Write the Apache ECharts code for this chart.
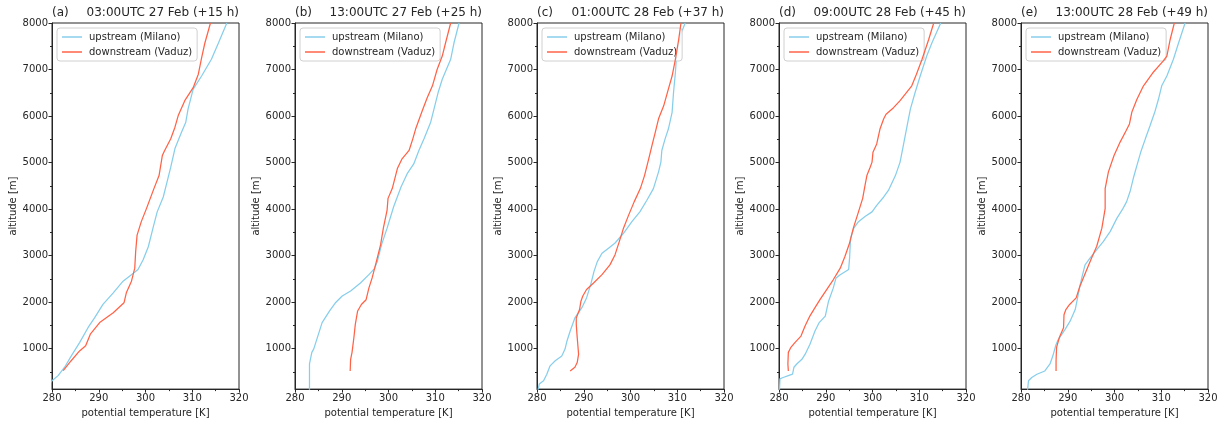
<!DOCTYPE html>
<html>
<head>
<meta charset="UTF-8">
<title>potential temperature profiles</title>
<script src="https://cdn.jsdelivr.net/npm/echarts@6/dist/echarts.min.js"></script>
<style>
  html, body { margin: 0; padding: 0; background: #fff; }
  #main { width: 1223px; height: 423px; }
</style>
</head>
<body>
<div id="main"></div>
<script>
// panel titles
var tags = ['(a)', '(b)', '(c)', '(d)', '(e)'];
var times = ['03:00UTC 27 Feb (+15 h)', '13:00UTC 27 Feb (+25 h)', '01:00UTC 28 Feb (+37 h)',
             '09:00UTC 28 Feb (+45 h)', '13:00UTC 28 Feb (+49 h)'];

// [theta K, altitude m]
var upA = [[279.5,250],[280,310],[281.3,420],[282.7,600],[284.1,840],[285.9,1130],[287.7,1450],[289.1,1660],
  [290.9,1950],[293.1,2200],[295.2,2450],[297.4,2620],[298.4,2700],[299.5,2910],[300.6,3190],[301.6,3590],
  [302.5,3940],[303.8,4260],[304.6,4580],[305.4,4900],[306.3,5300],[307.7,5650],[308.6,5860],[309.1,6150],
  [310.2,6580],[312,6860],[314.1,7220],[315.6,7570],[317.4,8000]];
var downA = [[282.4,525],[284.1,740],[285.9,950],[287.2,1060],[288.2,1310],[290.2,1560],[293.1,1770],
  [295.4,1985],[295.9,2200],[297,2450],[297.7,2730],[297.9,3090],[298.2,3440],[299.1,3730],[300.2,4010],
  [301.8,4440],[302.9,4720],[303.6,5150],[304.1,5260],[305.4,5510],[306.3,5760],[307,6010],[308.4,6330],
  [310.2,6610],[311.3,6900],[312,7250],[312.7,7570],[313.9,8000]];

var upB = [[283.1,100],[283.1,670],[283.6,920],[284,990],[285.8,1560],[287.4,1810],[288.6,1980],[290.1,2130],
  [291.9,2240],[294,2410],[295.8,2590],[297,2720],[297.6,2870],[298.5,3230],[299.7,3590],[301.1,4050],
  [302.7,4480],[304,4760],[305.4,4970],[306.5,5260],[307.6,5510],[309,5860],[309.9,6220],[310.6,6500],
  [311.5,6790],[313.3,7220],[314,7570],[315.1,8000]];
var downB = [[291.8,520],[291.9,770],[292.2,920],[292.6,1240],[292.9,1520],[293.4,1810],[294.2,1950],
  [295.2,2050],[295.8,2300],[296.5,2520],[297.4,2870],[298.3,3230],[298.9,3590],[299.7,3980],[299.9,4230],
  [300.8,4440],[301.9,4870],[302.9,5080],[304.4,5260],[305.2,5510],[305.8,5720],[307.2,6110],[308.3,6400],
  [309.4,6650],[310.4,7000],[311.5,7290],[312.2,7570],[313.3,8000]];

var upC = [[280.2,100],[280.3,130],[280.5,240],[281.4,310],[282.1,450],[282.8,630],[283.9,740],[285.3,840],
  [286,990],[286.4,1160],[287.1,1380],[288.1,1660],[289.6,1880],[290.6,2090],[291.5,2380],[292.2,2660],
  [292.9,2870],[293.9,3050],[295.3,3160],[296.7,3270],[298.5,3480],[300.3,3730],[302,3940],[303.5,4190],
  [304.9,4440],[306,4800],[306.5,5010],[306.7,5260],[307.4,5510],[308.1,5720],[308.9,6080],[309.2,6500],
  [309.6,6930],[309.9,7360],[310.6,7720],[311.7,8000]];
var downC = [[287.1,520],[288.1,600],[288.6,700],[288.9,880],[288.6,1240],[288.4,1520],[288.4,1660],
  [289.1,1840],[289.4,2020],[289.8,2130],[290.6,2270],[292.1,2410],[293.9,2590],[295.6,2800],[296.7,3020],
  [297.6,3300],[298.5,3590],[299.6,3870],[300.8,4160],[302.1,4440],[303,4720],[303.9,5080],[304.6,5370],
  [305.3,5650],[306,5940],[307.1,6220],[308.1,6580],[308.9,6860],[309.6,7220],[310.3,7640],[310.8,8000]];

var upD = [[280.1,100],[280.1,130],[280.2,350],[280.9,380],[282,420],[282.9,450],[283.2,600],[283.8,670],
  [284.9,770],[285.6,880],[286.6,1090],[287.7,1380],[288.6,1560],[289.9,1700],[290.6,2020],[291.6,2300],
  [292.2,2520],[293.1,2590],[294.9,2700],[295.1,2950],[295.3,3370],[296,3590],[297,3730],[298.4,3840],
  [299.9,3940],[300.9,4080],[302.4,4260],[303.4,4400],[304.9,4720],[305.9,5010],[306.6,5370],[307.4,5790],
  [308.1,6150],[309.1,6500],[310.2,6860],[311.6,7290],[312.7,7570],[314.6,8000]];
var downD = [[282,520],[281.9,670],[282,920],[282.5,1020],[283.4,1130],[284.7,1270],[285.6,1490],
  [286.6,1700],[287.7,1880],[288.8,2060],[290.2,2270],[291.6,2480],[293.1,2730],[294.1,2980],[295.1,3270],
  [295.9,3590],[297,3940],[297.9,4230],[298.4,4510],[298.8,4720],[299.5,4900],[299.9,5010],[300.1,5220],
  [300.9,5400],[301.6,5720],[302.4,5940],[302.9,6040],[304.5,6180],[305.9,6330],[307,6470],[308.4,6650],
  [309.4,6900],[310.6,7220],[312,7640],[313.1,8000]];

var upE = [[281.4,100],[281.6,310],[282.3,380],[283.4,450],[285.1,520],[286.2,670],[286.8,840],[287.5,1090],
  [288,1200],[289.4,1410],[290.5,1590],[291.6,1840],[292.1,2090],[292.5,2300],[293,2520],[293.7,2800],
  [294.8,2950],[296.2,3130],[297.6,3300],[299.1,3520],[300.5,3800],[301.8,4010],[302.6,4160],[303.4,4400],
  [304.1,4690],[304.8,4940],[305.6,5220],[306.6,5510],[307.6,5790],[308.6,6080],[309.4,6360],[310.1,6650],
  [311.2,6860],[312.6,7220],[313.7,7570],[315.1,8000]];
var downE = [[287.5,520],[287.5,740],[287.6,1020],[288.2,1240],[289.1,1450],[289.2,1730],[289.6,1840],
  [290.4,1950],[291.8,2090],[292.6,2340],[293.9,2660],[295.1,2950],[296.2,3200],[297.3,3590],[298,4010],
  [298,4440],[298.7,4800],[299.9,5150],[301.2,5440],[302.5,5690],[303.2,5830],[303.7,6080],[304.8,6360],
  [306.2,6650],[308.2,6930],[310.4,7180],[311.2,7290],[311.9,7640],[312.8,8000]];

var upstream = [upA, upB, upC, upD, upE];
var downstream = [downA, downB, downC, downD, downE];

var yTicks = [1000, 2000, 3000, 4000, 5000, 6000, 7000, 8000];
var yMinorTicks = [500, 1500, 2500, 3500, 4500, 5500, 6500, 7500];

var chart = echarts.init(document.getElementById('main'), null, { renderer: 'canvas' });

var FONT = 'DejaVu Sans';
var lefts = [52, 295, 537, 779, 1021];
var W = 187, TOP = 23, H = 369;
var BLUE = '#87CEEB', RED = '#FF6347', INK = '#262626';
var plain = function (v) { return String(v); };

var grid = [], xAxis = [], yAxis = [], series = [], title = [], legend = [];

for (var i = 0; i < 5; i++) {
  grid.push({
    left: lefts[i], top: TOP, width: W, height: H,
    show: true, borderColor: INK, borderWidth: 1, backgroundColor: 'transparent'
  });
  xAxis.push({
    type: 'value', gridIndex: i, min: 280, max: 320, interval: 10,
    name: 'potential temperature [K]', nameLocation: 'middle', nameGap: 15,
    nameTextStyle: { fontFamily: FONT, fontSize: 10, color: INK },
    axisLine: { show: true, lineStyle: { color: INK, width: 1 } },
    axisTick: { show: true, inside: false, length: 3.5, lineStyle: { color: INK } },
    minorTick: { show: true, splitNumber: 2, length: 2, lineStyle: { color: INK } },
    axisLabel: { fontFamily: FONT, fontSize: 10, color: INK, margin: 4, formatter: plain },
    splitLine: { show: false }
  });
  // major ticks + labels
  yAxis.push({
    type: 'value', gridIndex: i, min: 130, max: 8000, position: 'left',
    name: 'altitude [m]', nameLocation: 'middle', nameGap: 31, nameRotate: 90,
    nameTextStyle: { fontFamily: FONT, fontSize: 10, color: INK },
    axisLine: { show: true, lineStyle: { color: INK, width: 1 } },
    axisTick: { show: true, length: 3.5, customValues: yTicks, lineStyle: { color: INK } },
    axisLabel: { fontFamily: FONT, fontSize: 10, color: INK, margin: 4, customValues: yTicks, formatter: plain },
    splitLine: { show: false }
  });
  // minor ticks
  yAxis.push({
    type: 'value', gridIndex: i, min: 130, max: 8000, position: 'left', offset: 0,
    axisLine: { show: false },
    axisTick: { show: true, length: 2, customValues: yMinorTicks, lineStyle: { color: INK } },
    axisLabel: { show: false },
    splitLine: { show: false }
  });

  series.push({
    name: 'upstream (Milano)', type: 'line', xAxisIndex: i, yAxisIndex: 2 * i,
    data: upstream[i], showSymbol: false, symbol: 'none', clip: true,
    lineStyle: { color: BLUE, width: 1.25 }, itemStyle: { color: BLUE }, z: 3
  });
  series.push({
    name: 'downstream (Vaduz)', type: 'line', xAxisIndex: i, yAxisIndex: 2 * i,
    data: downstream[i], showSymbol: false, symbol: 'none', clip: true,
    lineStyle: { color: RED, width: 1.25 }, itemStyle: { color: RED }, z: 4
  });

  title.push({
    text: tags[i], left: lefts[i], top: 7, padding: 0,
    textStyle: { fontFamily: FONT, fontSize: 12, fontWeight: 'normal', color: INK }
  });
  title.push({
    text: times[i], right: 1223 - (lefts[i] + W), top: 7, padding: 0,
    textStyle: { fontFamily: FONT, fontSize: 12, fontWeight: 'normal', color: INK }
  });

  legend.push({
    left: lefts[i] + 5, top: 28, orient: 'vertical',
    data: ['upstream (Milano)', 'downstream (Vaduz)'],
    icon: 'rect', itemWidth: 20, itemHeight: 1.5, itemGap: 5,
    padding: [4, 5, 4, 5],
    backgroundColor: 'rgba(255,255,255,0.8)', borderColor: '#d0d0d0', borderWidth: 1, borderRadius: 3,
    textStyle: { fontFamily: FONT, fontSize: 10, color: INK, padding: [0, 0, 0, 2] },
    selectedMode: false
  });
}

chart.setOption({
  animation: false,
  backgroundColor: '#fff',
  title: title,
  legend: legend,
  grid: grid,
  xAxis: xAxis,
  yAxis: yAxis,
  series: series
});
</script>
</body>
</html>
